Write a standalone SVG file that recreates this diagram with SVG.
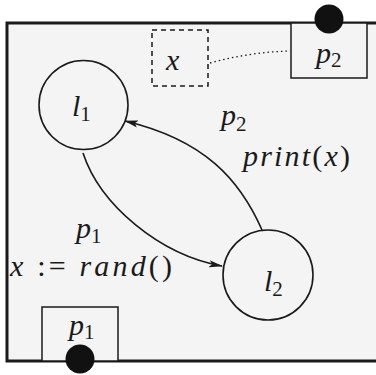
<svg xmlns="http://www.w3.org/2000/svg" width="376" height="375" viewBox="0 0 376 375">
<style>
.box{fill:#f4f4f4;stroke:#1a1a1a;stroke-width:1.5}
.node{fill:#f4f4f4;stroke:#1a1a1a;stroke-width:1.6}
.edge{fill:none;stroke:#1a1a1a;stroke-width:1.6}
</style>
<defs>
<marker id="ah" viewBox="0 0 14 8" refX="13" refY="4" markerWidth="14" markerHeight="8" markerUnits="userSpaceOnUse" orient="auto">
<path d="M0,0.5 L14,4 L0,7.5 L3,4 Z" fill="#1a1a1a"/>
</marker>
</defs>
<rect x="7" y="23" width="380" height="338" fill="#f4f4f4" stroke="#1a1a1a" stroke-width="3"/>
<g id="connectors">
<path class="edge" d="M83,153 C100,205 160,255 222,266" marker-end="url(#ah)"/>
<path class="edge" d="M262,230 C240,180 205,140 125,121" marker-end="url(#ah)"/>
<path d="M210,63 Q250,52 290,51" fill="none" stroke="#1a1a1a" stroke-width="1.3" stroke-dasharray="1.5,3"/>
</g>
<g font-family="Liberation Serif, Times New Roman, serif" font-style="italic" font-size="30" fill="#1a1a1a">
<g id="var-x">
<rect x="152" y="30" width="56" height="56" fill="none" stroke="#1a1a1a" stroke-width="1.5" stroke-dasharray="5,4"/>
<text x="166" y="70">x</text>
</g>
<g id="p2">
<rect class="box" x="291" y="23" width="76" height="55"/>
<text x="316" y="63">p<tspan font-style="normal" font-size="21" dy="4">2</tspan></text>
<circle cx="329" cy="19" r="14.5" fill="#111"/>
</g>
<g id="p1">
<rect class="box" x="42" y="307" width="76" height="54"/>
<text x="69" y="335">p<tspan font-style="normal" font-size="21" dy="4">1</tspan></text>
<circle cx="80" cy="359" r="14.5" fill="#111"/>
</g>
<g id="l1">
<circle class="node" cx="83.5" cy="105" r="44.5"/>
<text x="72" y="116">l<tspan font-style="normal" font-size="21" dy="5">1</tspan></text>
</g>
<g id="l2">
<circle class="node" cx="268" cy="275" r="45"/>
<text x="264" y="291">l<tspan font-style="normal" font-size="21" dy="5">2</tspan></text>
</g>
<g id="labels">
<text x="221" y="125">p<tspan font-style="normal" font-size="21" dy="6">2</tspan></text>
<text x="243" y="166" textLength="107" lengthAdjust="spacing">print<tspan font-style="normal">(</tspan>x<tspan font-style="normal">)</tspan></text>
<text x="76" y="238">p<tspan font-style="normal" font-size="21" dy="5">1</tspan></text>
<text x="10" y="276" textLength="162" lengthAdjust="spacing">x <tspan font-style="normal">:=</tspan> rand<tspan font-style="normal">()</tspan></text>
</g>
</g>
</svg>
